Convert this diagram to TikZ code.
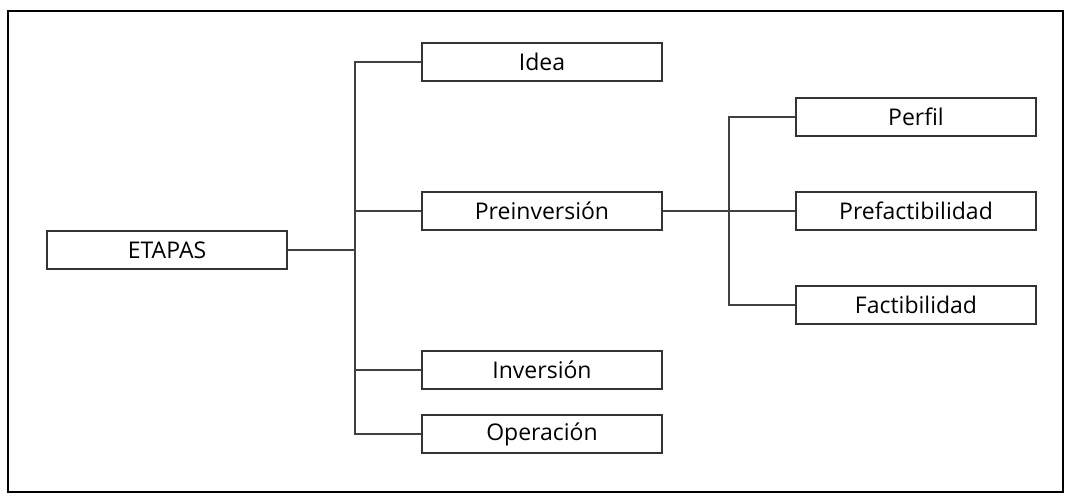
\documentclass[tikz,border=0pt]{standalone}
\usepackage{fontspec}
\setmainfont{Open Sans}
\usetikzlibrary{positioning}

\begin{document}
\begin{tikzpicture}[
  x=1pt, y=-1pt,
  etapa/.style={draw=black!80, line width=1.2pt, minimum width=240pt, minimum height=38pt,
                inner sep=0pt, text centered, font=\fontsize{23}{27}\selectfont},
  rama/.style={draw=black!75, line width=1.4pt},
]
  \useasboundingbox (0,0) rectangle (1068,497);
  \draw[line width=2pt] (8,11) rectangle (1063,492);

  \node[etapa] (eta)  at (167,250) {ETAPAS};
  \node[etapa] (idea) at (542,62)  {Idea};
  \node[etapa] (pre)  at (542,211) {Preinversión};
  \node[etapa] (inv)  at (542,370) {Inversión};
  \node[etapa] (ope)  at (542,434) {Operación};
  \node[etapa] (per)  at (916,117) {Perfil};
  \node[etapa] (pref) at (916,211) {Prefactibilidad};
  \node[etapa] (fac)  at (916,305) {Factibilidad};

  \coordinate (t1) at (355,250);
  \coordinate (t2) at (729,211);

  \draw[rama] (eta) -- (t1);
  \draw[rama] (idea.west) -| (t1) |- (ope.west);
  \draw[rama] (t1 |- pre) -- (pre.west);
  \draw[rama] (t1 |- inv) -- (inv.west);
  \draw[rama] (pre) -- (t2);
  \draw[rama] (per.west) -| (t2) |- (fac.west);
  \draw[rama] (t2 |- pref) -- (pref.west);
\end{tikzpicture}
\end{document}
